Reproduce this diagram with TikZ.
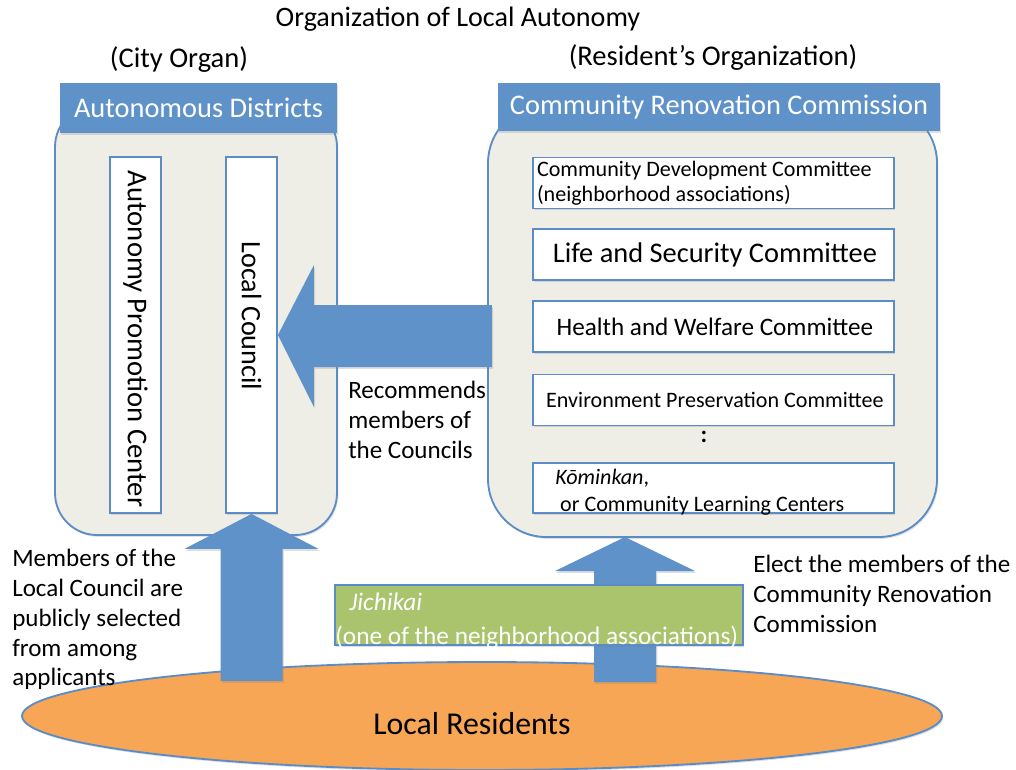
\documentclass[tikz,border=0pt]{standalone}
\usepackage{fontspec}
\setmainfont{Carlito}
\usetikzlibrary{shapes.geometric,shadows}
\definecolor{arrowblue}{HTML}{5E92C9}
\definecolor{lineblue}{HTML}{5B8CC7}
\definecolor{panel}{HTML}{EEEDE6}
\definecolor{jgreen}{HTML}{A9C46C}
\definecolor{resorange}{HTML}{F7A655}
\tikzset{>=latex}
\tikzstyle{softshadow}=[drop shadow={shadow xshift=0.9pt,shadow yshift=-1.3pt,opacity=0.25}]
\tikzstyle{container}=[rectangle,draw=lineblue,fill=panel,line width=1.3pt,softshadow]
\tikzstyle{header}=[rectangle,fill=arrowblue,text=white,softshadow]
\tikzstyle{committee}=[rectangle,draw=lineblue,fill=white,line width=1.3pt,softshadow]
\tikzstyle{bigarrow}=[fill=arrowblue,softshadow]
\tikzstyle{residents}=[ellipse,draw=lineblue,fill=resorange,line width=1.3pt,softshadow]
\tikzstyle{note}=[inner sep=0pt,align=left,anchor=north west,font=\fontsize{17.8}{21.2}\selectfont]

\begin{document}
\begin{tikzpicture}[x=0.025cm,y=-0.025cm,inner sep=0pt]
\def \px {0.025};
\useasboundingbox (0,0) rectangle (1016,769);

% local residents
\node[residents,minimum width=920*\px cm,minimum height=108*\px cm] (res) at (482,716) {};
\node[font=\fontsize{22.6}{26}\selectfont] (reslabel) at (472,724) {Local Residents};

% titles
\node[font=\fontsize{20}{24}\selectfont] (title) at (458,19) {Organization of Local Autonomy};
\node[font=\fontsize{20.3}{24}\selectfont] (cityorg) at (179,60) {(City Organ)};
\node[font=\fontsize{20.3}{24}\selectfont] (resorg) at (713,58) {(Resident’s Organization)};

% city organ
\node[container,rounded corners=1.05cm,minimum width=282*\px cm,minimum height=430*\px cm] (city) at (196,320) {};
\node[header,minimum width=277*\px cm,minimum height=50*\px cm,font=\fontsize{20.2}{24}\selectfont] (cityhead) at (198.5,108) {Autonomous Districts};
\node[committee,rotate=-90,minimum width=356*\px cm,minimum height=51*\px cm] (apc) at (135.5,335) {};
\node[rotate=-90,font=\fontsize{20.4}{24}\selectfont] (apctext) at (135.5,339) {Autonomy Promotion Center};
\node[committee,rotate=-90,minimum width=356*\px cm,minimum height=51*\px cm] (lc) at (251.5,335) {};
\node[rotate=-90,font=\fontsize{20}{24}\selectfont] (lctext) at (251.5,316) {Local Council};

% resident's organization
\node[container,rounded corners=1.45cm,minimum width=449*\px cm,minimum height=432*\px cm] (crc) at (712.5,321) {};
\node[header,minimum width=442*\px cm,minimum height=48*\px cm,font=\fontsize{20.2}{24}\selectfont] (crchead) at (719,107) {Community Renovation Commission};

\node[committee,minimum width=361*\px cm,minimum height=51*\px cm,text width=353*\px cm,align=flush left,
      font=\fontsize{15.7}{17.8}\selectfont] (com1) at (713.5,183)
      {Community Development Committee\\(neighborhood associations)};
\foreach \i/\yc/\fs/\txt in {2/254.5/20.2/Life and Security Committee,
                              3/326.5/17.9/Health and Welfare Committee,
                              4/400/15.7/Environment Preservation Committee} {
	\node[committee,minimum width=361*\px cm,minimum height=51*\px cm,font=\fontsize{\fs}{22}\selectfont] (com\i)
	at (713.5,\yc) {\hspace*{2pt}\txt};
};
\node[font=\fontsize{17}{20}\selectfont\bfseries] (vdots) at (704,437) {:};
\node[committee,minimum width=361*\px cm,minimum height=50*\px cm] (com5) at (713.5,488) {};
\node[note,font=\fontsize{15.7}{19.2}\selectfont] (com5text) at (555,469)
      {\textit{Kōminkan},\\\hspace*{3.5pt}or Community Learning Centers};

% block arrows
\fill[bigarrow] (lc.north) -- ++(36,-70) -- ++(0,40) -- ++(178,0) -- ++(0,62)
	-- ++(-178,0) -- ++(0,40) -- cycle;
\fill[bigarrow] (lc.east) -- ++(67,35) -- ++(-36,0) -- ++(0,132) -- ++(-62,0)
	-- ++(0,-132) -- ++(-36,0) -- cycle;
\coordinate (crctip) at (625,537);
\fill[bigarrow] (crctip) -- ++(70,34) -- ++(-39,0) -- ++(0,111) -- ++(-62,0)
	-- ++(0,-111) -- ++(-39,0) -- cycle;

\node[committee,fill=jgreen,minimum width=408*\px cm,minimum height=60*\px cm] (jichikai) at (539,615) {};
\node[note,text=white,font=\fontsize{18}{24}\selectfont] (jichikaitext) at (335,593)
      {\hspace*{10pt}\textit{Jichikai}\\(one of the neighborhood associations)};

% notes
\node[note] (recommend) at (348,381) {Recommends\\members of\\the Councils};
\node[note] (selected) at (12,549) {Members of the\\Local Council are\\publicly selected\\from among\\applicants};
\node[note] (elect) at (753,555) {Elect the members of the\\Community Renovation\\Commission};

\end{tikzpicture}
\end{document}
